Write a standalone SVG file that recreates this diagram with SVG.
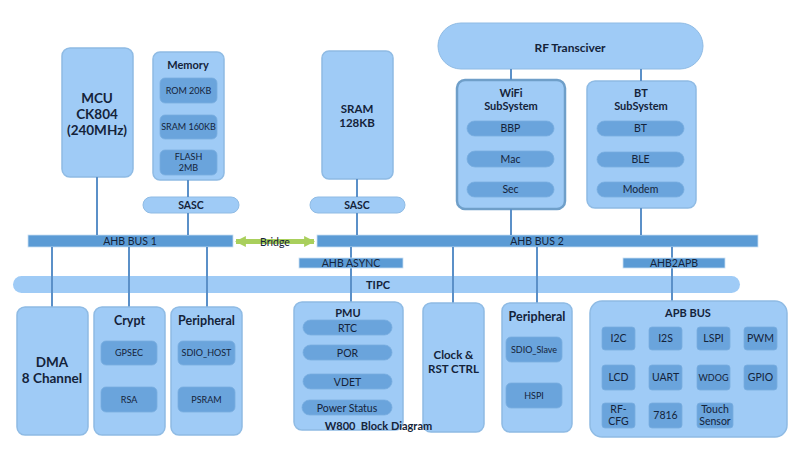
<svg xmlns="http://www.w3.org/2000/svg" width="809" height="455" viewBox="0 0 809 455">
<defs>
<marker id="ah" viewBox="0 0 10 10" refX="9" refY="5" markerWidth="2.2" markerHeight="2.2" orient="auto-start-reverse"><path d="M0,0 L10,5 L0,10 z" fill="#a9cf5c"/></marker>
<style>
.box{fill:#9fcbf6;stroke:#8fbbe4;stroke-width:1.5}
.wbox{fill:#9fcbf6;stroke:#6f9fc9;stroke-width:2.5}
.inner{fill:#6aa4dc;stroke:#78addf;stroke-width:0.8}
.bus{fill:#5b9bd5;stroke:#c9def2;stroke-width:0.8}
.pill{fill:#9fcbf6;stroke:#8fbbe4;stroke-width:1}
.ln{stroke:#5b90c8;stroke-width:2;fill:none}
text{font-family:Lato,"Open Sans","Liberation Sans",sans-serif;fill:#14233a;text-anchor:middle}
.t{font-weight:bold;font-size:12px}
.tl{font-weight:bold;font-size:13.5px}
.s{font-size:9px}
.m{font-size:10.5px}
</style>
</defs>
<rect width="809" height="455" fill="#ffffff"/>

<g id="rf"><rect x="438" y="23" width="265" height="46" rx="23" class="pill"/><text x="570" y="52" class="t">RF Transciver</text></g>

<g id="mcu"><rect x="62" y="48" width="71" height="129" rx="8" class="box"/>
<text x="97" y="103" class="tl">MCU</text><text x="97" y="119" class="tl">CK804</text><text x="97" y="135" class="tl">(240MHz)</text></g>

<g id="memory"><rect x="153" y="52" width="71" height="128" rx="7" class="box"/>
<text x="188" y="69" class="t" style="font-size:11px">Memory</text>
<rect x="160" y="78" width="57" height="25" rx="5" class="inner"/><text x="188.5" y="94" class="s">ROM 20KB</text>
<rect x="160" y="115" width="57" height="24" rx="5" class="inner"/><text x="188.5" y="130" class="s">SRAM 160KB</text>
<rect x="160" y="150" width="57" height="25" rx="5" class="inner"/><text x="188.5" y="160" class="s">FLASH</text><text x="188.5" y="171" class="s">2MB</text></g>

<g id="sasc1"><rect x="143" y="197" width="96" height="16" rx="8" class="pill"/><text x="191" y="209" class="t" style="font-size:10.5px">SASC</text></g>

<g id="sram"><rect x="322" y="51" width="71" height="128" rx="7" class="box"/>
<text x="357" y="113" class="t" style="font-size:11.5px">SRAM</text><text x="357" y="127" class="t" style="font-size:11.5px">128KB</text></g>

<g id="sasc2"><rect x="310" y="197" width="95" height="16" rx="8" class="pill"/><text x="357" y="209" class="t" style="font-size:10.5px">SASC</text></g>

<g id="wifi"><rect x="457" y="80" width="108" height="129" rx="8" class="wbox"/>
<text x="511" y="97" class="t" style="font-size:11px">WiFi</text><text x="511" y="110" class="t" style="font-size:11px">SubSystem</text>
<rect x="467" y="121" width="87" height="15" rx="7.5" class="inner"/><text x="510.5" y="132" class="m">BBP</text>
<rect x="467" y="151" width="87" height="16" rx="8" class="inner"/><text x="510.5" y="163" class="m">Mac</text>
<rect x="467" y="182" width="87" height="15" rx="7.5" class="inner"/><text x="510.5" y="193" class="m">Sec</text></g>

<g id="bt"><rect x="587" y="81" width="109" height="127" rx="8" class="box"/>
<text x="641" y="97" class="t" style="font-size:11px">BT</text><text x="641" y="110" class="t" style="font-size:11px">SubSystem</text>
<rect x="597" y="121" width="87" height="15" rx="7.5" class="inner"/><text x="640.5" y="132" class="m">BT</text>
<rect x="597" y="152" width="87" height="15" rx="7.5" class="inner"/><text x="640.5" y="163" class="m">BLE</text>
<rect x="597" y="182" width="87" height="15" rx="7.5" class="inner"/><text x="640.5" y="193" class="m">Modem</text></g>

<g id="ahb1"><rect x="28" y="235" width="205" height="12" class="bus"/><text x="130" y="245" class="m">AHB BUS 1</text></g>
<g id="ahb2"><rect x="317" y="235" width="441" height="12" class="bus"/><text x="537" y="245" class="m">AHB BUS 2</text></g>
<g id="tipc"><rect x="13" y="276" width="727" height="17" rx="8.5" style="fill:#9fcbf6;stroke:none"/><text x="378" y="289" class="t" style="font-size:11px">TIPC</text></g>

<g id="bridge"><line x1="236" y1="241.5" x2="314" y2="241.5" stroke="#a9cf5c" stroke-width="5" marker-start="url(#ah)" marker-end="url(#ah)"/><text x="275" y="245.5" class="m">Bridge</text></g>

<g id="connectors">
<line x1="97" y1="177" x2="97" y2="235" class="ln"/>
<line x1="188" y1="180" x2="188" y2="197" class="ln"/>
<line x1="188" y1="213" x2="188" y2="235" class="ln"/>
<line x1="357" y1="179" x2="357" y2="197" class="ln"/>
<line x1="357" y1="213" x2="357" y2="235" class="ln"/>
<line x1="511" y1="69" x2="511" y2="80" class="ln" stroke-width="3"/>
<line x1="511" y1="209" x2="511" y2="235" class="ln"/>
<line x1="641" y1="69" x2="641" y2="81" class="ln" stroke-width="3"/>
<line x1="641" y1="208" x2="641" y2="235" class="ln"/>
<line x1="52" y1="247" x2="52" y2="307" class="ln"/>
<line x1="129" y1="247" x2="129" y2="307" class="ln"/>
<line x1="207" y1="247" x2="207" y2="307" class="ln"/>
<line x1="351" y1="247" x2="351" y2="258" class="ln"/>
<line x1="351" y1="268" x2="351" y2="302" class="ln"/>
<line x1="453" y1="247" x2="453" y2="303" class="ln"/>
<line x1="537" y1="247" x2="537" y2="303" class="ln"/>
<line x1="672" y1="247" x2="672" y2="258" class="ln"/>
<line x1="672" y1="268" x2="672" y2="301" class="ln"/>
</g>

<g id="ahbasync"><rect x="299" y="258" width="104" height="10" class="bus"/><text x="351" y="267" class="m">AHB ASYNC</text></g>
<g id="ahb2apb"><rect x="623" y="258" width="102" height="10" class="bus"/><text x="674" y="267" class="m">AHB2APB</text></g>

<g id="dma"><rect x="17" y="307" width="71" height="128" rx="8" class="box"/>
<text x="52" y="367" class="tl">DMA</text><text x="52" y="383" class="tl">8 Channel</text></g>

<g id="crypt"><rect x="94" y="307" width="71" height="128" rx="8" class="box"/>
<text x="129.5" y="325" class="t" style="font-size:12.5px">Crypt</text>
<rect x="101" y="341" width="56" height="24" rx="5" class="inner"/><text x="129" y="356" class="s">GPSEC</text>
<rect x="101" y="387" width="56" height="25" rx="5" class="inner"/><text x="129" y="402.5" class="s">RSA</text></g>

<g id="periph1"><rect x="171" y="307" width="71" height="128" rx="8" class="box"/>
<text x="206.5" y="325" class="t" style="font-size:12.5px">Peripheral</text>
<rect x="178" y="341" width="57" height="24" rx="5" class="inner"/><text x="206.5" y="356" class="s">SDIO_HOST</text>
<rect x="178" y="387" width="57" height="25" rx="5" class="inner"/><text x="206.5" y="402.5" class="s">PSRAM</text></g>

<g id="pmu"><rect x="294" y="302" width="109" height="128" rx="8" class="box"/>
<text x="348" y="317" class="t" style="font-size:11px">PMU</text>
<rect x="303" y="320" width="89" height="15" rx="7.5" class="inner"/><text x="347.5" y="331.5" class="m">RTC</text>
<rect x="303" y="345" width="89" height="15" rx="7.5" class="inner"/><text x="347.5" y="356.5" class="m">POR</text>
<rect x="303" y="374" width="89" height="15" rx="7.5" class="inner"/><text x="347.5" y="385.5" class="m">VDET</text>
<rect x="302" y="400" width="90" height="15" rx="7.5" class="inner"/><text x="347" y="411.5" class="m">Power Status</text></g>

<g id="clock"><rect x="423" y="303" width="61" height="129" rx="8" class="box"/>
<text x="453.5" y="359" class="t" style="font-size:11.5px">Clock &amp;</text><text x="453.5" y="373" class="t" style="font-size:11.5px">RST CTRL</text></g>

<g id="periph2"><rect x="502" y="303" width="70" height="129" rx="8" class="box"/>
<text x="537" y="321" class="t" style="font-size:12.5px">Peripheral</text>
<rect x="506" y="337" width="56" height="25" rx="5" class="inner"/><text x="534" y="353" class="s">SDIO_Slave</text>
<rect x="506" y="383" width="56" height="25" rx="5" class="inner"/><text x="534" y="399" class="s">HSPI</text></g>

<g id="apb"><rect x="590" y="301" width="197" height="136" rx="12" class="box"/>
<text x="688" y="317" class="t" style="font-size:11px">APB BUS</text>
<rect x="602" y="327" width="33" height="23" rx="3" class="inner"/><text x="618.5" y="342" class="m">I2C</text>
<rect x="649" y="327" width="33" height="23" rx="3" class="inner"/><text x="665.5" y="342" class="m">I2S</text>
<rect x="697" y="327" width="33" height="23" rx="3" class="inner"/><text x="713.5" y="342" class="m">LSPI</text>
<rect x="744" y="327" width="33" height="23" rx="3" class="inner"/><text x="760.5" y="342" class="m">PWM</text>
<rect x="602" y="365" width="33" height="25" rx="3" class="inner"/><text x="618.5" y="381" class="m">LCD</text>
<rect x="649" y="365" width="33" height="25" rx="3" class="inner"/><text x="665.5" y="381" class="m">UART</text>
<rect x="697" y="365" width="33" height="25" rx="3" class="inner"/><text x="713.5" y="380.5" class="s">WDOG</text>
<rect x="744" y="365" width="33" height="25" rx="3" class="inner"/><text x="760.5" y="381" class="m">GPIO</text>
<rect x="602" y="403" width="33" height="25" rx="3" class="inner"/><text x="618.5" y="413" class="m">RF-</text><text x="618.5" y="425" class="m">CFG</text>
<rect x="649" y="403" width="33" height="25" rx="3" class="inner"/><text x="665.5" y="419" class="m">7816</text>
<rect x="697" y="403" width="36" height="25" rx="3" class="inner"/><text x="715" y="413" class="m">Touch</text><text x="715" y="425" class="m">Sensor</text></g>

<g id="title"><text x="378.5" y="429.5" class="t" style="font-size:11px;white-space:pre" xml:space="preserve">W800  Block Diagram</text></g>
</svg>
